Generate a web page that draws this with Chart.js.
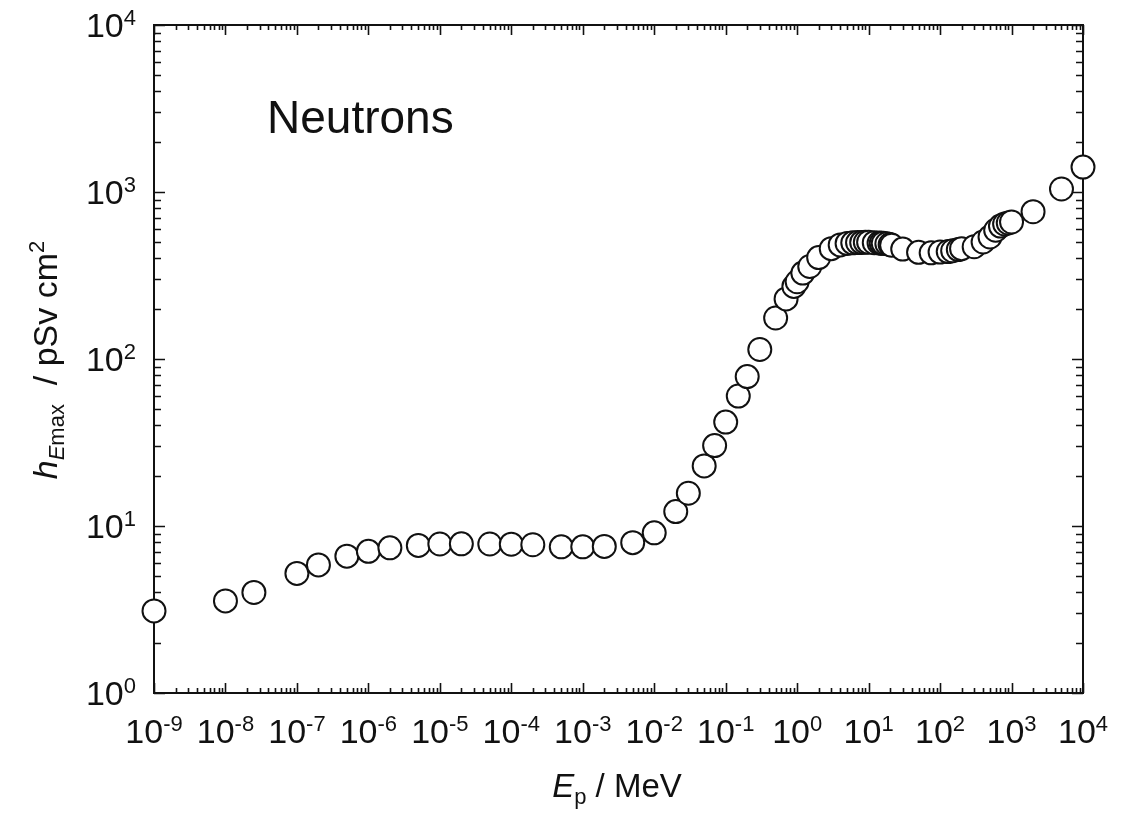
<!DOCTYPE html>
<html>
<head>
<meta charset="utf-8">
<title>Neutrons</title>
<script src="https://cdn.jsdelivr.net/npm/chart.js@4.4.1/dist/chart.umd.min.js"></script>
<style>
  html, body { margin: 0; padding: 0; background: #fff; }
  canvas { display: block; }
</style>
</head>
<body>
<canvas id="doseChart" width="1123" height="822"></canvas>
<script>
// Neutron energy (MeV)
const energies = [
  1e-9, 1e-8, 2.5e-8, 1e-7, 2e-7, 5e-7, 1e-6, 2e-6, 5e-6, 1e-5, 2e-5, 5e-5,
  1e-4, 2e-4, 5e-4, 1e-3, 2e-3, 5e-3, 1e-2, 2e-2, 3e-2, 5e-2, 7e-2,
  0.1, 0.15, 0.2, 0.3, 0.5, 0.7, 0.9, 1, 1.2, 1.5, 2, 3, 4, 5, 6, 7, 8, 9,
  10, 12, 14, 15, 16, 18, 20, 21, 30, 50, 75,
  100, 130, 150, 180, 200, 300, 400, 500, 600, 700, 800, 900,
  1000, 2000, 5000, 10000
];
// Max effective dose per fluence (pSv cm^2)
const doses = [
  3.1, 3.56, 4.0, 5.2, 5.85, 6.6, 7.05, 7.4, 7.65, 7.8, 7.82, 7.8,
  7.78, 7.72, 7.5, 7.5, 7.55, 7.95, 9.1, 12.2, 15.7, 22.9, 30.3,
  41.9, 60, 78.5, 114, 176, 229, 272, 290, 327, 358, 405, 458, 482, 492, 496, 498, 499, 500,
  500, 497, 495, 494, 493, 490, 485, 480, 455, 435, 432,
  437, 440, 445, 452, 458, 470, 502, 538, 590, 625, 643, 652,
  661, 762, 1042, 1410
];
// decade exponents shown on the axes
const xTickPowers = [-9, -8, -7, -6, -5, -4, -3, -2, -1, 0, 1, 2, 3, 4];
const yTickPowers = [0, 1, 2, 3, 4];

const FONT = '"Liberation Sans", Arial, sans-serif';
const INK = '#111';

// "10" with a raised exponent; align: 'center' or 'right'
function drawPower(ctx, x, baseY, exp, align) {
  ctx.font = '34px ' + FONT;
  const wBase = ctx.measureText('10').width;
  ctx.font = '22px ' + FONT;
  const wExp = ctx.measureText(String(exp)).width;
  const total = wBase + wExp;
  let left = align === 'center' ? x - total / 2 : x - total;
  ctx.textAlign = 'left';
  ctx.textBaseline = 'alphabetic';
  ctx.font = '34px ' + FONT;
  ctx.fillText('10', left, baseY);
  ctx.font = '22px ' + FONT;
  ctx.fillText(String(exp), left + wBase, baseY - 12);
}

// draws a run of [text, font, dy] pieces centred on (cx, baseY)
function drawRich(ctx, cx, baseY, parts) {
  let total = 0;
  parts.forEach(p => { ctx.font = p[1]; total += ctx.measureText(p[0]).width; });
  let x = cx - total / 2;
  ctx.textAlign = 'left';
  ctx.textBaseline = 'alphabetic';
  parts.forEach(p => {
    ctx.font = p[1];
    ctx.fillText(p[0], x, baseY + p[2]);
    x += ctx.measureText(p[0]).width;
  });
}

const framePlugin = {
  id: 'frame',
  beforeDatasetsDraw(chart) {
    const { ctx, chartArea: a, scales } = chart;
    const xs = scales.x, ys = scales.y;
    ctx.save();
    ctx.strokeStyle = INK;
    ctx.lineWidth = 1.6;
    ctx.beginPath();
    // x ticks, inward on top and bottom
    for (let d = xTickPowers[0]; d <= xTickPowers[xTickPowers.length - 1]; d++) {
      for (let k = 1; k <= 9; k++) {
        if (d === xTickPowers[xTickPowers.length - 1] && k > 1) break;
        const px = Math.round(xs.getPixelForValue(k * Math.pow(10, d))) + 0.5;
        const len = k === 1 ? 10 : 5;
        ctx.moveTo(px, a.bottom); ctx.lineTo(px, a.bottom - len);
        ctx.moveTo(px, a.top); ctx.lineTo(px, a.top + len);
      }
    }
    // y ticks, inward on left and right
    for (let d = yTickPowers[0]; d <= yTickPowers[yTickPowers.length - 1]; d++) {
      for (let k = 1; k <= 9; k++) {
        if (d === yTickPowers[yTickPowers.length - 1] && k > 1) break;
        const py = Math.round(ys.getPixelForValue(k * Math.pow(10, d))) + 0.5;
        const len = k === 1 ? 11 : 7;
        ctx.moveTo(a.left, py); ctx.lineTo(a.left + len, py);
        ctx.moveTo(a.right, py); ctx.lineTo(a.right - len, py);
      }
    }
    ctx.stroke();
    ctx.lineWidth = 2;
    ctx.strokeRect(a.left, a.top, a.right - a.left, a.bottom - a.top);
    ctx.restore();
  },
  afterDraw(chart) {
    const { ctx, chartArea: a, scales } = chart;
    ctx.save();
    ctx.fillStyle = INK;
    xTickPowers.forEach(p => {
      drawPower(ctx, scales.x.getPixelForValue(Math.pow(10, p)), a.bottom + 50, p, 'center');
    });
    yTickPowers.forEach(p => {
      drawPower(ctx, 136, scales.y.getPixelForValue(Math.pow(10, p)) + 12, p, 'right');
    });

    // axis titles
    drawRich(ctx, 617, 797, [
      ['E', 'italic 33px ' + FONT, 0],
      ['p', '22px ' + FONT, 7],
      [' / MeV', '33px ' + FONT, 0]
    ]);
    ctx.save();
    ctx.translate(57, 360);
    ctx.rotate(-Math.PI / 2);
    drawRich(ctx, 0, 0, [
      ['h', 'italic 34px ' + FONT, 0],
      ['E', 'italic 22px ' + FONT, 7],
      ['max', '22px ' + FONT, 7],
      ['  / pSv cm', '34px ' + FONT, 0],
      ['2', '22px ' + FONT, -13]
    ]);
    ctx.restore();

    ctx.font = '46px ' + FONT;
    ctx.textAlign = 'left';
    ctx.fillText('Neutrons', 267, 133);
    ctx.restore();
  }
};

new Chart(document.getElementById('doseChart'), {
  type: 'scatter',
  data: {
    datasets: [{
      data: energies.map((e, i) => ({ x: e, y: doses[i] })),
      pointRadius: 11.5,
      pointHoverRadius: 11.5,
      pointBorderWidth: 2,
      borderColor: INK,
      backgroundColor: '#fff',
      clip: false
    }]
  },
  options: {
    responsive: false,
    animation: false,
    events: [],
    layout: { padding: { left: 154, top: 25, right: 40, bottom: 129 } },
    plugins: { legend: { display: false }, tooltip: { enabled: false } },
    scales: {
      x: { type: 'logarithmic', min: 1e-9, max: 1e4, display: false },
      y: { type: 'logarithmic', min: 1, max: 1e4, display: false }
    }
  },
  plugins: [framePlugin]
});
</script>
</body>
</html>
